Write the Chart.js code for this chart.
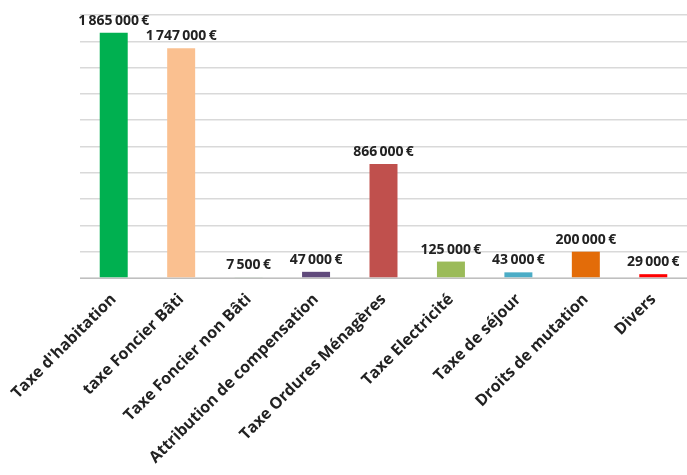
<!DOCTYPE html>
<html>
<head>
<meta charset="utf-8">
<script src="https://cdn.jsdelivr.net/npm/chart.js@4/dist/chart.umd.min.js"></script>
<style>
html, body { margin:0; padding:0; background:#fff; }
#wrap { width:687px; height:475px; }
</style>
</head>
<body>
<div id="wrap"><canvas id="recettesChart" width="687" height="475"></canvas></div>
<script>
// categories and amounts (euros)
const categories = [
    "Taxe d'habitation",
    "taxe Foncier Bâti",
    "Taxe Foncier non Bâti",
    "Attribution de compensation",
    "Taxe Ordures Ménagères",
    "Taxe Electricité",
    "Taxe de séjour",
    "Droits de mutation",
    "Divers"
]

const amounts = [1865000, 1747000, 7500, 47000, 866000, 125000, 43000, 200000, 29000]

const barColors = [
    "#00b050", "#fac090", "#b3cbb3", "#604a7b", "#c0504d",
    "#9bbb59", "#4bacc6", "#e36c09", "#ff0000"
]

const yTicks = [0, 200000, 400000, 600000, 800000, 1000000, 1200000, 1400000, 1600000, 1800000, 2000000]

function euro(v){
    return String(v).replace(/\B(?=(\d{3})+(?!\d))/g, "\u2009") + "\u2009€"
}

const valueLabels = {
    id:"valueLabels",
    afterDatasetsDraw(chart){
        const ctx = chart.ctx
        const meta = chart.getDatasetMeta(0)
        ctx.save()
        ctx.font = "bold 14px 'Open Sans'"
        ctx.fillStyle = "#222"
        ctx.textAlign = "center"
        ctx.textBaseline = "alphabetic"
        meta.data.forEach((bar, i) => {
            ctx.fillText(euro(amounts[i]), bar.x, bar.y - 8)
        })
        ctx.restore()
    }
}

new Chart(
    document.getElementById("recettesChart"),
    {
        type:"bar",
        data:{
            labels:categories,
            datasets:[{
                data:amounts,
                backgroundColor:barColors,
                barPercentage:0.415,
                categoryPercentage:1
            }]
        },
        options:{
            responsive:false,
            animation:false,
            layout:{ padding:{ left:80, right:0, top:15, bottom:0 } },
            plugins:{
                legend:{ display:false },
                tooltip:{ enabled:false }
            },
            scales:{
                x:{
                    grid:{ display:false },
                    border:{ color:"#bfbfbf", width:1 },
                    ticks:{
                        autoSkip:false,
                        minRotation:45,
                        maxRotation:45,
                        padding:4,
                        color:"#222",
                        font:{ family:"'Open Sans'", size:16, weight:"bold" }
                    },
                    afterFit(scale){ scale.height = 197 }
                },
                y:{
                    min:0,
                    max:2000000,
                    afterBuildTicks(scale){
                        scale.ticks = yTicks.map(v => ({ value:v }))
                    },
                    grid:{ color:"#d9d9d9", lineWidth:1.5, drawTicks:false },
                    border:{ display:false },
                    ticks:{ display:false },
                    afterFit(scale){ scale.width = 0 }
                }
            }
        },
        plugins:[valueLabels]
    }
)
</script>
</body>
</html>
